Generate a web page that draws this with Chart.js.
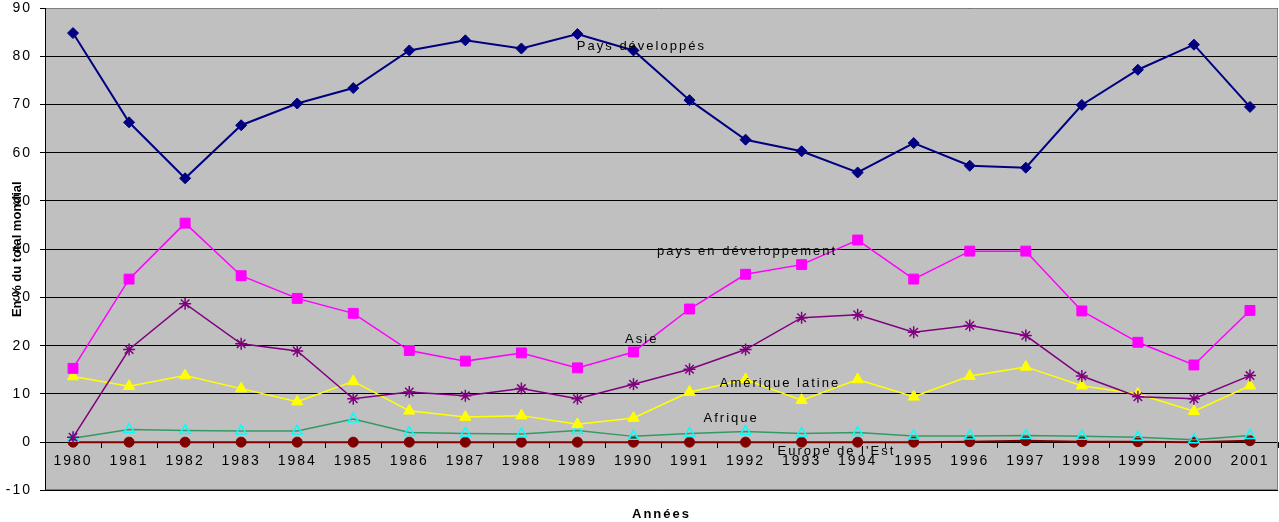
<!DOCTYPE html>
<html lang="fr">
<head>
<meta charset="utf-8">
<title>En % du total mondial</title>
<script src="https://cdn.jsdelivr.net/npm/chart.js@4.4.1/dist/chart.umd.min.js"></script>
<style>
  html, body { margin: 0; padding: 0; background: #fff; }
  canvas { display: block; }
</style>
</head>
<body>
<canvas id="partsChart" width="1279" height="522"></canvas>
<script>
const years = ['1980', '1981', '1982', '1983', '1984', '1985', '1986', '1987', '1988', '1989', '1990',
  '1991', '1992', '1993', '1994', '1995', '1996', '1997', '1998', '1999', '2000', '2001'];

const paysDeveloppes = [84.8, 66.3, 54.7, 65.7, 70.2, 73.4, 81.2, 83.3, 81.6, 84.6, 81.2, 70.9, 62.7, 60.3, 55.9, 62.0, 57.3, 56.9, 69.9, 77.2, 82.4, 69.5];
const paysEnDeveloppement = [15.3, 33.8, 45.4, 34.5, 29.8, 26.7, 19.0, 16.8, 18.5, 15.4, 18.7, 27.6, 34.8, 36.8, 41.9, 33.8, 39.6, 39.6, 27.2, 20.7, 16.0, 27.3];
const asie = [1.0, 19.2, 28.7, 20.4, 18.9, 9.0, 10.4, 9.6, 11.1, 9.0, 12.0, 15.1, 19.2, 25.8, 26.4, 22.8, 24.2, 22.1, 13.7, 9.4, 9.0, 13.8];
const ameriqueLatine = [13.6, 11.6, 13.8, 11.1, 8.4, 12.6, 6.5, 5.2, 5.5, 3.7, 5.0, 10.4, 13.0, 8.7, 13.0, 9.4, 13.7, 15.6, 11.7, 10.0, 6.4, 11.7];
const afrique = [0.8, 2.6, 2.4, 2.3, 2.3, 4.8, 2.0, 1.8, 1.7, 2.4, 1.2, 1.8, 2.2, 1.8, 2.0, 1.3, 1.3, 1.4, 1.2, 1.0, 0.5, 1.4];
const europeEst = [0, 0, 0, 0, 0, 0, 0, 0, 0, 0, 0, 0, 0, 0, 0, 0, 0.1, 0.3, 0.1, 0.1, 0, 0.3];

// series names written inside the plot, anchored in data units (category index, value)
const seriesNames = ['Pays développés', 'pays en développement', 'Asie', 'Amérique latine', 'Afrique', "Europe de l'Est"];
const nameAtIndex = [8.99, 10.42, 9.85, 11.54, 11.25, 12.57];
const nameAtValue = [82, 39.5, 21.2, 12.1, 4.95, -1.9];

const family = 'Arial, "Liberation Sans", sans-serif';

const plotFrame = {
  id: 'plotFrame',
  beforeLayout(chart) {
    chart.ctx.letterSpacing = '2px';
  },
  beforeDraw(chart) {
    const { ctx, chartArea: a } = chart;
    ctx.letterSpacing = '2px';
    ctx.save();
    ctx.fillStyle = '#c0c0c0';
    ctx.fillRect(a.left, a.top, a.right - a.left, a.bottom - a.top);
    ctx.restore();
  },
  beforeDatasetsDraw(chart) {
    const { ctx, chartArea: a } = chart;
    ctx.save();
    ctx.strokeStyle = '#808080';
    ctx.lineWidth = 1;
    ctx.beginPath();
    ctx.moveTo(a.left + 1, Math.round(a.top) + 0.5);
    ctx.lineTo(Math.round(a.right) - 0.5, Math.round(a.top) + 0.5);
    ctx.lineTo(Math.round(a.right) - 0.5, Math.round(a.bottom) - 0.5);
    ctx.lineTo(a.left + 1, Math.round(a.bottom) - 0.5);
    ctx.stroke();
    ctx.restore();
  },
  afterDatasetsDraw(chart) {
    const { ctx, scales } = chart;
    ctx.save();
    ctx.font = '13px ' + family;
    ctx.fillStyle = '#000';
    ctx.textAlign = 'left';
    ctx.textBaseline = 'middle';
    seriesNames.forEach((name, i) => {
      ctx.fillText(name, scales.x.getPixelForValue(nameAtIndex[i]), scales.y.getPixelForValue(nameAtValue[i]));
    });
    ctx.restore();
  },
  afterDraw(chart) {
    const { ctx, chartArea: a } = chart;
    ctx.save();
    ctx.letterSpacing = '0px';
    ctx.translate(17, (a.top + a.bottom) / 2);
    ctx.rotate(-Math.PI / 2);
    ctx.font = 'bold 13px ' + family;
    ctx.fillStyle = '#000';
    ctx.textAlign = 'center';
    ctx.textBaseline = 'middle';
    ctx.fillText('En % du total mondial', 0, 0);
    ctx.restore();
  }
};

function series(label, data, color, style, radius, extra) {
  return Object.assign({
    label: label,
    data: data,
    borderColor: color,
    borderWidth: 1.5,
    pointStyle: style,
    pointRadius: radius,
    pointBackgroundColor: color,
    pointBorderColor: color,
    pointBorderWidth: 1,
    fill: false,
    tension: 0
  }, extra || {});
}

const ctx = document.getElementById('partsChart').getContext('2d');
new Chart(ctx, {
  type: 'line',
  data: {
    labels: years,
    datasets: [
      series('Pays développés', paysDeveloppes, '#000080', 'rectRot', 5.5, { borderWidth: 2 }),
      series('pays en développement', paysEnDeveloppement, '#ff00ff', 'rect', 7),
      series('Asie', asie, '#800080', 'star', 6, { pointBorderWidth: 1.5 }),
      series('Amérique latine', ameriqueLatine, '#ffff00', 'triangle', 6.5),
      series('Afrique', afrique, '#339966', 'triangle', 6, {
        pointBackgroundColor: 'rgba(0,0,0,0)',
        pointBorderColor: '#00ffff',
        pointBorderWidth: 1.5
      }),
      series("Europe de l'Est", europeEst, '#800000', 'circle', 5, { borderWidth: 2 })
    ]
  },
  options: {
    responsive: false,
    animation: false,
    events: [],
    layout: { autoPadding: false, padding: { top: 0, right: 1, left: 0, bottom: 0 } },
    plugins: {
      legend: { display: false },
      tooltip: { enabled: false },
      title: {
        display: true,
        text: 'Années',
        position: 'bottom',
        fullSize: false,
        color: '#000',
        font: { family: family, size: 13, weight: 'bold' },
        padding: { top: 16, bottom: 0 }
      }
    },
    scales: {
      x: {
        position: { y: 0 },
        offset: true,
        grid: { offset: true, drawOnChartArea: false, drawTicks: true, tickLength: 5, color: '#000' },
        border: { color: '#000', width: 1 },
        ticks: { color: '#000', font: { family: family, size: 14 }, padding: 6, maxRotation: 0, autoSkip: false },
        afterFit(scale) {
          scale.paddingLeft = 0;
          scale.paddingRight = 0;
        }
      },
      y: {
        min: -10,
        max: 90,
        ticks: { stepSize: 10, color: '#000', font: { family: family, size: 14 }, padding: 8 },
        grid: { color: '#000', tickLength: 5 },
        border: { color: '#000', width: 1 },
        afterFit(scale) {
          scale.width = 45;
          scale.paddingTop = 8;
          scale.paddingBottom = 8;
        }
      }
    }
  },
  plugins: [plotFrame]
});
</script>
</body>
</html>
